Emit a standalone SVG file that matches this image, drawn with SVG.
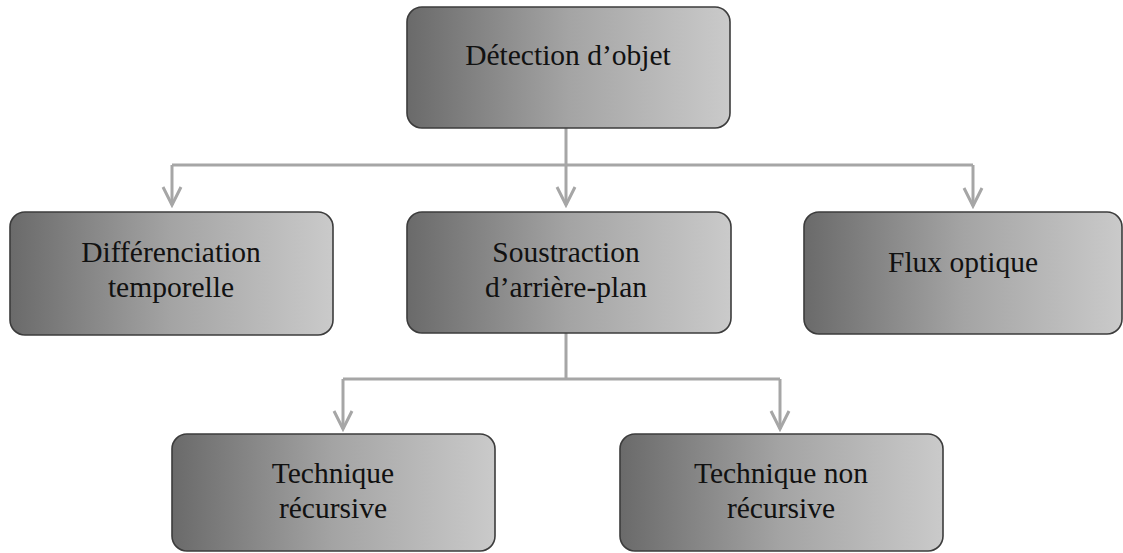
<svg xmlns="http://www.w3.org/2000/svg" width="1123" height="553" viewBox="0 0 1123 553">
<style>
.box{fill:url(#g);stroke:#3c3c3c;stroke-width:1.6}
.t{font-family:"Liberation Serif","Times New Roman",serif;font-size:29.5px;fill:#111;text-anchor:middle}
.c{fill:none;stroke:#a6a6a6;stroke-width:3}
</style>
<defs>
<linearGradient id="g" x1="0" y1="0" x2="1" y2="0">
<stop offset="0" stop-color="#6a6a6a"/>
<stop offset="0.5" stop-color="#a4a4a4"/>
<stop offset="1" stop-color="#cacaca"/>
</linearGradient>
<marker id="arr" viewBox="0 0 22 22" refX="19" refY="11" markerWidth="22" markerHeight="22" markerUnits="userSpaceOnUse" orient="auto">
<path d="M1,2 L19,11 L1,20" fill="none" stroke="#a6a6a6" stroke-width="3"/>
</marker>
</defs>
<g id="connectors">
<path class="c" d="M566,128 V165 M172,165 H973"/>
<path class="c" d="M172,165 V205" marker-end="url(#arr)"/>
<path class="c" d="M566,165 V205" marker-end="url(#arr)"/>
<path class="c" d="M973,165 V206" marker-end="url(#arr)"/>
<path class="c" d="M566,333 V379 M343,379 H780"/>
<path class="c" d="M343,379 V429" marker-end="url(#arr)"/>
<path class="c" d="M780,379 V429" marker-end="url(#arr)"/>
</g>
<g id="n-detection">
<rect class="box" x="407" y="7" width="323" height="121" rx="15"/>
<text class="t" x="568" y="65">Détection d’objet</text>
</g>
<g id="n-differenciation">
<rect class="box" x="10" y="212" width="323" height="123" rx="15"/>
<text class="t" x="171" y="262">Différenciation</text>
<text class="t" x="171" y="297">temporelle</text>
</g>
<g id="n-soustraction">
<rect class="box" x="407" y="212" width="324" height="121" rx="15"/>
<text class="t" x="566" y="262">Soustraction</text>
<text class="t" x="566" y="297">d’arrière-plan</text>
</g>
<g id="n-flux">
<rect class="box" x="804" y="212" width="318" height="122" rx="15"/>
<text class="t" x="963" y="272">Flux optique</text>
</g>
<g id="n-recursive">
<rect class="box" x="172" y="434" width="323" height="117" rx="15"/>
<text class="t" x="333" y="483">Technique</text>
<text class="t" x="333" y="518">récursive</text>
</g>
<g id="n-nonrecursive">
<rect class="box" x="620" y="434" width="323" height="117" rx="15"/>
<text class="t" x="781" y="483">Technique non</text>
<text class="t" x="781" y="518">récursive</text>
</g>
</svg>
